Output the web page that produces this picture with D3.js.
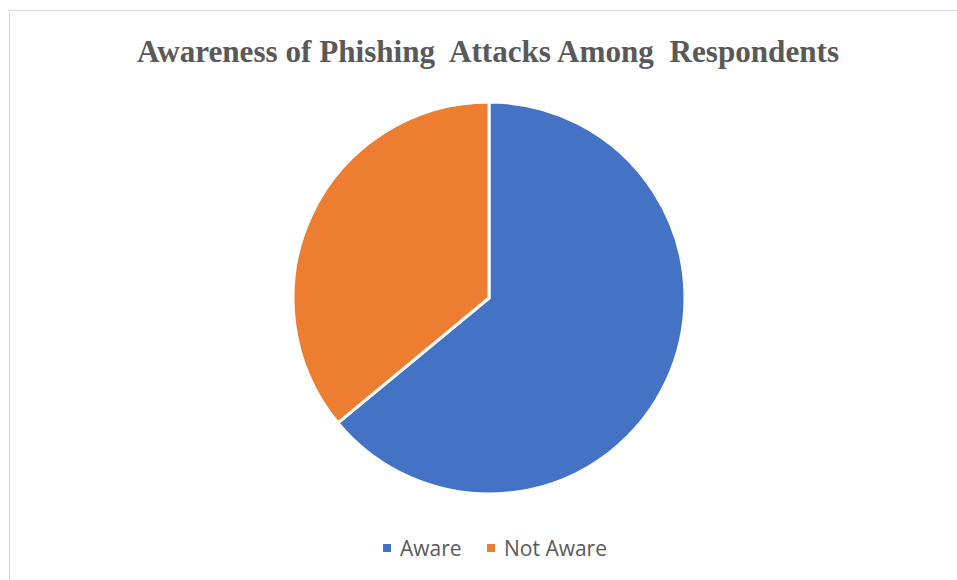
<!DOCTYPE html>
<html>
<head>
<meta charset="utf-8">
<script src="https://cdn.jsdelivr.net/npm/d3@7"></script>
<style>
  body { margin: 0; background: #fff; }
</style>
</head>
<body>
<script>
// awareness pie, values (percent)
var categories = ["Aware", "Not Aware"];
var values = [64, 36];
var colors = ["#4472C4", "#ED7D31"];
var title = "Awareness of Phishing  Attacks Among  Respondents";

var W = 957, H = 580;
var svg = d3.select("body").append("svg")
  .attr("width", W)
  .attr("height", H);

// chart frame (only top and left show inside the window)
svg.append("rect")
  .attr("x", 9.5).attr("y", 10.5)
  .attr("width", 1200).attr("height", 1200)
  .attr("fill", "#fff")
  .attr("stroke", "#d9d9d9");

// title is squeezed horizontally in the original
svg.append("text")
  .attr("x", 488).attr("y", 62)
  .attr("text-anchor", "middle")
  .attr("font-family", "'Liberation Serif', 'Times New Roman', serif")
  .attr("font-weight", "bold")
  .attr("font-size", 32)
  .attr("fill", "#595959")
  .attr("textLength", 702)
  .attr("lengthAdjust", "spacingAndGlyphs")
  .style("white-space", "pre")
  .text(title);

var cx = 489, cy = 298, r = 196;

var pie = d3.pie().sort(null).value(function(d) { return d; });
var arc = d3.arc().innerRadius(0).outerRadius(r);

var g = svg.append("g").attr("transform", "translate(" + cx + "," + cy + ")");
g.selectAll("path")
  .data(pie(values))
  .enter().append("path")
  .attr("d", arc)
  .attr("fill", function(d, i) { return colors[i]; })
  .attr("stroke", "#fff")
  .attr("stroke-width", 3)
  .attr("stroke-linejoin", "round");

// legend
var legendX = [383, 487];
var leg = svg.selectAll("g.leg")
  .data(categories)
  .enter().append("g")
  .attr("class", "leg")
  .attr("transform", function(d, i) { return "translate(" + legendX[i] + ",544)"; });
leg.append("rect")
  .attr("width", 8).attr("height", 8)
  .attr("fill", function(d, i) { return colors[i]; });
leg.append("text")
  .attr("x", 17).attr("y", 11.5)
  .attr("font-family", "'Open Sans', sans-serif")
  .attr("font-size", 21)
  .attr("fill", "#595959")
  .text(function(d) { return d; });
</script>
</body>
</html>
